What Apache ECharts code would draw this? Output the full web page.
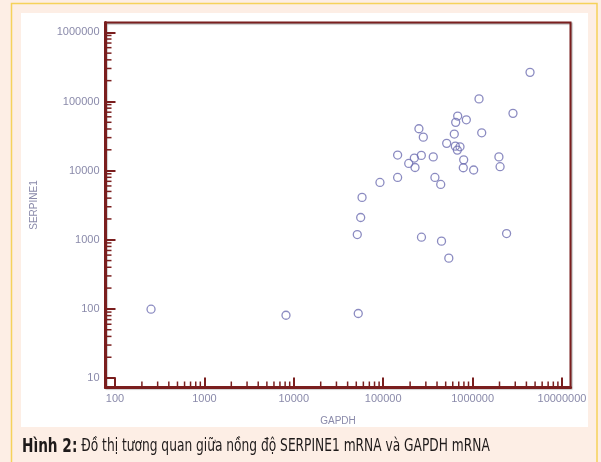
<!DOCTYPE html>
<html>
<head>
<meta charset="utf-8">
<script src="https://cdn.jsdelivr.net/npm/echarts@6/dist/echarts.min.js"></script>
<style>
  html, body { margin: 0; padding: 0; background: #fdeee5; }
  #chart { width: 601px; height: 462px; }
</style>
</head>
<body>
<div id="chart"></div>
<script>
// GAPDH (x) and SERPINE1 (y), one entry per sample
const gapdh = [
    4390000, 1180000, 2830000, 681000, 647000, 851000, 251000, 281000, 624000, 1265000,
    513000, 641000, 723000, 675000, 145000, 267000, 363000, 223000, 193000, 227000,
    795000, 787000, 1028000, 1970000, 2030000, 145000, 379000, 440000, 92000, 58000,
    56000, 51300, 268000, 449000, 542000, 2400000, 52600, 253, 8180
];
const serpine1 = [
    263700, 109000, 67300, 61500, 49900, 54300, 40300, 30500, 33800, 35200,
    24800, 22600, 22100, 19800, 16800, 16600, 15800, 15200, 12700, 11100,
    14300, 11000, 10200, 15800, 11400, 7970, 7970, 6310, 6750, 4100,
    2100, 1190, 1090, 955, 542, 1230, 85.8, 99, 81
];

const xDecades = [100, 1000, 10000, 100000, 1000000];
const yDecades = [10, 100, 1000, 10000, 100000];
const minorSteps = [2, 3, 4, 5, 6, 7, 8, 9];

const xName = 'GAPDH';
const yName = 'SERPINE1';
const captionBold = 'Hình 2:';
const captionText = ' Đồ thị tương quan giữa nồng độ SERPINE1 mRNA và GAPDH mRNA';

const axisColor = '#7a1e1e';
const labelColor = '#8a8aaa';
const dotColor = '#6e6eb2';

let points = gapdh.map((g, i) => [g, serpine1[i]]);
let xMinor = [];
xDecades.forEach(d => minorSteps.forEach(m => xMinor.push([m * d, 1000])));
let yMinor = [];
yDecades.forEach(d => minorSteps.forEach(m => yMinor.push([1000, m * d])));

const chart = echarts.init(document.getElementById('chart'), null, {renderer: 'canvas'});

function fmt(v) {
    return String(Math.round(v));
}

const option = {
    animation: false,
    backgroundColor: '#fdeee5',
    graphic: [
        {
            type: 'rect', z: -10, silent: true,
            shape: {x: 11.5, y: 3.5, width: 585.5, height: 480},
            style: {fill: '#fdeee5', stroke: '#f6d25a', lineWidth: 1.5}
        },
        {
            type: 'rect', z: -9, silent: true,
            shape: {x: 21, y: 13, width: 567, height: 414},
            style: {fill: '#ffffff'}
        },
        {
            type: 'text', z: 10, silent: true,
            x: 22, y: 447, scaleX: 0.8,
            style: {
                text: '{b|' + captionBold + '}{r|' + captionText + '}',
                verticalAlign: 'middle',
                rich: {
                    b: {fontFamily: 'Liberation Sans Narrow, DejaVu Sans Condensed, sans-serif', fontWeight: 'bold', fontSize: 19, fill: '#1e1a1a'},
                    r: {fontFamily: 'Liberation Sans Narrow, DejaVu Sans Condensed, sans-serif', fontSize: 17, fill: '#1e1a1a'}
                }
            }
        }
    ],
    grid: {
        left: 105.5,
        right: 30.5,
        top: 22.5,
        bottom: 74.5,
        show: true,
        borderColor: axisColor,
        borderWidth: 2,
        backgroundColor: 'transparent',
        shadowColor: 'rgba(0,0,0,0.35)',
        shadowBlur: 1,
        shadowOffsetX: 1,
        shadowOffsetY: 1
    },
    xAxis: {
        type: 'log',
        logBase: 10,
        min: 78.3,
        max: 12450000,
        name: xName,
        nameLocation: 'middle',
        nameGap: 29,
        nameTextStyle: {color: labelColor, fontSize: 10, fontFamily: 'Liberation Sans, Arial, sans-serif'},
        splitLine: {show: false},
        axisLine: {lineStyle: {color: axisColor, width: 3}},
        axisTick: {inside: true, length: 10, lineStyle: {color: axisColor, width: 2}},
        axisLabel: {
            color: labelColor, fontSize: 11, margin: 6,
            fontFamily: 'Liberation Sans, Arial, sans-serif',
            showMinLabel: false, showMaxLabel: false,
            formatter: fmt
        }
    },
    yAxis: {
        type: 'log',
        logBase: 10,
        min: 7.3,
        max: 1387000,
        name: yName,
        nameLocation: 'middle',
        nameGap: 66,
        nameTextStyle: {color: labelColor, fontSize: 10, fontFamily: 'Liberation Sans, Arial, sans-serif'},
        splitLine: {show: false},
        axisLine: {lineStyle: {color: axisColor, width: 3}},
        axisTick: {inside: true, length: 10, lineStyle: {color: axisColor, width: 2}},
        axisLabel: {
            color: labelColor, fontSize: 11, margin: 6,
            fontFamily: 'Liberation Sans, Arial, sans-serif',
            showMinLabel: false, showMaxLabel: false,
            formatter: fmt
        }
    },
    series: [
        {
            type: 'custom',
            silent: true,
            z: 5,
            data: xMinor,
            renderItem: function (params, api) {
                const cs = params.coordSys;
                const p = api.coord([api.value(0), api.value(1)]);
                const y0 = cs.y + cs.height;
                return {
                    type: 'line',
                    shape: {x1: p[0], y1: y0, x2: p[0], y2: y0 - 6},
                    style: {stroke: axisColor, lineWidth: 1.5}
                };
            }
        },
        {
            type: 'custom',
            silent: true,
            z: 5,
            data: yMinor,
            renderItem: function (params, api) {
                const cs = params.coordSys;
                const p = api.coord([api.value(0), api.value(1)]);
                return {
                    type: 'line',
                    shape: {x1: cs.x, y1: p[1], x2: cs.x + 6, y2: p[1]},
                    style: {stroke: axisColor, lineWidth: 1.5}
                };
            }
        },
        {
            type: 'scatter',
            data: points,
            symbol: 'circle',
            symbolSize: 8,
            itemStyle: {color: 'rgba(0,0,0,0)', borderColor: dotColor, borderWidth: 1.3}
        }
    ]
};

chart.setOption(option);
</script>
</body>
</html>
